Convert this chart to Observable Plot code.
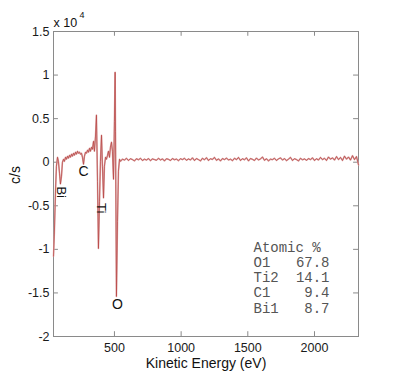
<!DOCTYPE html>
<html><head><meta charset="utf-8">
<script src="https://cdn.jsdelivr.net/npm/d3@7"></script>
<script src="https://cdn.jsdelivr.net/npm/@observablehq/plot@0.6"></script>
<style>body{margin:0;background:#fff}</style>
</head><body><div id="chart"></div>
<script>
const energy = [43,50,58,65,73,80,88,95,103,110,118,125,133,140,148,155,163,170,178,185,193,200,208,215,223,230,238,245,253,260,268,275,283,290,298,305,313,320,328,335,343,350,358,365,373,380,388,395,403,410,418,425,433,440,448,455,463,470,478,485,493,500,505,508,515,523,530,538,
545,560,575,590,605,620,635,650,665,680,695,710,725,740,755,770,785,800,815,830,845,860,875,890,905,920,935,950,965,980,995,1010,1025,1040,1055,1070,1085,1100,1115,1130,1145,1160,1175,1190,1205,1220,1235,1250,1265,1280,1295,1310,1325,1340,1355,1370,1385,1400,1415,1430,1445,1460,1475,1490,1505,1520,1535,1550,1565,1580,1595,1610,1625,1640,1655,1670,1685,1700,1715,1730,1745,1760,1775,1790,1805,1820,1835,1850,1865,1880,1895,1910,1925,1940,1955,1970,1985,2000,2015,2030,2045,2060,2075,2090,2105,2120,2135,2150,2165,2180,2195,2210,2225,2240,2255,2270,2285,2300,2315,2330];
const counts = [-10800,-7900,-3300,-460,570,100,-1260,-2500,-1600,0,340,100,570,340,690,460,800,570,920,690,1030,800,1150,920,1260,1030,1150,920,1030,570,-230,690,1150,1030,1380,1150,1600,1260,1720,1490,2400,1260,3000,5400,-2200,-9900,-4500,100,3100,-460,-4100,-460,570,340,800,1260,570,1720,2300,1260,-1950,4700,10330,3560,-15400,-6800,-1030,340,
100,350,250,450,200,400,300,150,400,280,450,200,350,250,420,180,380,300,220,450,260,380,150,400,330,200,420,280,360,180,400,300,450,220,380,260,500,200,420,300,150,450,280,520,200,400,320,550,220,380,150,420,300,480,250,350,180,450,300,550,200,400,280,500,150,420,330,200,480,250,380,600,220,400,150,350,300,450,200,380,500,250,420,180,350,550,200,400,300,150,450,280,380,220,420,300,500,200,400,250,550,300,450,200,600,350,500,250,650,300,550,200,700,350,600,250,750,300,650,-300];

const xTicks = [500, 1000, 1500, 2000];
const yTicks = [-20000, -15000, -10000, -5000, 0, 5000, 10000, 15000];

const peakLabels = ["Bi", "C", "Ti", "O"];
const peakEnergy = [103, 268, 403, 523];
const peakCounts = [-3440, -1030, -5280, -16300];
const peakRotate = [90, 0, 90, 0];

const tableHeader = "Atomic %";
const elements = ["O1", "Ti2", "C1", "Bi1"];
const atomicPct = [67.8, 14.1, 9.4, 8.7];

const xLabel = "Kinetic Energy (eV)";
const yLabel = "c/s";

const spectrum = energy.map((e, i) => ({e, c: counts[i]}));
const peaks = peakLabels.map((t, i) => ({t, e: peakEnergy[i], c: peakCounts[i], r: peakRotate[i]}));

const X0 = 43, X1 = 2330, Y0 = -20000, Y1 = 15000;
const tickColor = "#8a8a8a";

const chart = Plot.plot({
  width: 400, height: 378,
  marginLeft: 53, marginRight: 42, marginTop: 31, marginBottom: 42,
  style: {fontFamily: "'Liberation Sans', Arial, sans-serif", fontSize: "12.5px", color: "#1a1a1a", background: "#fff"},
  x: {domain: [X0, X1]},
  y: {domain: [Y0, Y1]},
  marks: [
    Plot.frame({stroke: tickColor}),
    Plot.ruleX(xTicks, {y1: Y0, y2: Y0 + 550, stroke: tickColor}),
    Plot.ruleX(xTicks, {y1: Y1, y2: Y1 - 550, stroke: tickColor}),
    Plot.ruleY(yTicks, {x1: X0, x2: X0 + 37, stroke: tickColor}),
    Plot.ruleY(yTicks, {x1: X1, x2: X1 - 37, stroke: tickColor}),
    Plot.axisX(xTicks, {tickSize: 0, tickPadding: 7, label: null, fontSize: 12.5, tickFormat: d => String(d)}),
    Plot.axisY(yTicks, {tickSize: 0, tickPadding: 4, label: null, fontSize: 12.5, tickFormat: d => String(d / 10000)}),
    Plot.lineY(spectrum, {x: "e", y: "c", stroke: "#dcaaaa", strokeWidth: 1.6}),
    Plot.lineY(spectrum, {x: "e", y: "c", stroke: "#b8403f", strokeWidth: 0.7}),
    Plot.text(peaks.filter(d => d.r), {x: "e", y: "c", text: "t", rotate: 90, fontSize: 13, fill: "#111"}),
    Plot.text(peaks.filter(d => !d.r), {x: "e", y: "c", text: "t", fontSize: 14, fill: "#111"}),
    Plot.text([[tableHeader, ...elements].join("\n")], {frameAnchor: "bottom-left", dx: 200, dy: -24, textAnchor: "start", lineAnchor: "bottom", lineHeight: 1.08, fontFamily: "'Liberation Mono', 'DejaVu Sans Mono', monospace", fontSize: 14, fill: "#555"}),
    Plot.text([["", ...atomicPct.map(d => d.toFixed(1))].join("\n")], {frameAnchor: "bottom-left", dx: 276, dy: -24, textAnchor: "end", lineAnchor: "bottom", lineHeight: 1.08, fontFamily: "'Liberation Mono', 'DejaVu Sans Mono', monospace", fontSize: 14, fill: "#555"}),
    Plot.text(["x 10"], {frameAnchor: "top-left", dx: 0, dy: -9, textAnchor: "start", lineAnchor: "middle", fontSize: 12.5, fill: "#111"}),
    Plot.text(["4"], {frameAnchor: "top-left", dx: 26, dy: -16, textAnchor: "start", lineAnchor: "middle", fontSize: 9, fill: "#111"}),
    Plot.text([xLabel], {frameAnchor: "bottom", dy: 27, lineAnchor: "middle", fontSize: 14, fill: "#111"}),
    Plot.text([yLabel], {frameAnchor: "left", dx: -38, rotate: -90, lineAnchor: "middle", fontSize: 14, fill: "#111"})
  ]
});
document.getElementById("chart").append(chart);
</script>
</body></html>
